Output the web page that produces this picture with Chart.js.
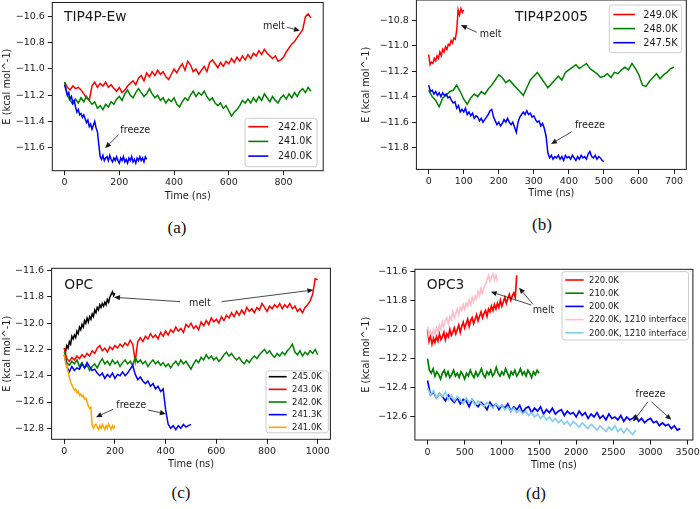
<!DOCTYPE html>
<html>
<head>
<meta charset="utf-8">
<script src="https://cdn.jsdelivr.net/npm/chart.js@4.4.1/dist/chart.umd.min.js"></script>
<style>
  html, body { margin: 0; padding: 0; background: #fff; }
  body { width: 700px; height: 509px; position: relative; overflow: hidden; }
  canvas { position: absolute; }
  .cap { position: absolute; font-family: "Liberation Serif", "DejaVu Serif", serif; font-size: 17px;
         color: #111; line-height: 1; transform: translate(-50%, -50%); }
</style>
</head>
<body>
<canvas id="pa"></canvas>
<canvas id="pb"></canvas>
<canvas id="pc"></canvas>
<canvas id="pd"></canvas>
<div class="cap" style="left:177px; top:227px">(a)</div>
<div class="cap" style="left:542px; top:224px">(b)</div>
<div class="cap" style="left:181px; top:492px">(c)</div>
<div class="cap" style="left:536px; top:493px">(d)</div>
<script>
// (a) TIP4P-Ew, energy (kcal/mol) sampled every step ns
const a242Step = 10;
const a242 = [-11.10,-11.14,-11.16,-11.13,-11.15,-11.14,-11.16,-11.19,-11.22,-11.24,
  -11.13,-11.10,-11.14,-11.11,-11.13,-11.10,-11.14,-11.12,-11.15,-11.17,
  -11.14,-11.18,-11.16,-11.13,-11.11,-11.09,-11.12,-11.07,-11.05,-11.09,
  -11.03,-11.06,-11.02,-11.05,-11.01,-11.04,-11.02,-11.06,-11.08,-11.04,
  -11.00,-11.03,-10.99,-10.96,-11.01,-10.94,-10.97,-11.02,-11.00,-11.04,
  -11.01,-10.98,-11.02,-10.95,-10.93,-10.96,-10.99,-10.95,-10.98,-10.94,
  -10.96,-10.92,-10.95,-10.91,-10.94,-10.90,-10.93,-10.89,-10.92,-10.88,
  -10.90,-10.86,-10.89,-10.85,-10.88,-10.90,-10.92,-10.90,-10.94,-10.93,
  -10.91,-10.87,-10.84,-10.81,-10.79,-10.76,-10.73,-10.70,-10.60,-10.58,
  -10.61];
const a241Step = 10;
const a241 = [-11.10,-11.20,-11.24,-11.27,-11.23,-11.26,-11.22,-11.25,-11.21,-11.24,
  -11.27,-11.25,-11.30,-11.28,-11.31,-11.27,-11.29,-11.25,-11.27,-11.23,
  -11.21,-11.24,-11.19,-11.16,-11.20,-11.22,-11.18,-11.15,-11.18,-11.21,
  -11.19,-11.15,-11.19,-11.22,-11.20,-11.24,-11.22,-11.26,-11.23,-11.25,
  -11.22,-11.27,-11.29,-11.25,-11.22,-11.24,-11.20,-11.17,-11.21,-11.18,
  -11.20,-11.17,-11.21,-11.24,-11.22,-11.26,-11.28,-11.26,-11.30,-11.28,
  -11.32,-11.36,-11.33,-11.31,-11.28,-11.24,-11.26,-11.23,-11.26,-11.22,
  -11.25,-11.21,-11.24,-11.19,-11.22,-11.25,-11.21,-11.24,-11.26,-11.22,
  -11.20,-11.23,-11.19,-11.22,-11.18,-11.21,-11.17,-11.15,-11.18,-11.14,
  -11.17];
const a240Step = 5;
const a240 = [-11.12,-11.16,-11.20,-11.18,-11.23,-11.21,-11.26,-11.24,-11.29,-11.33,
  -11.31,-11.35,-11.34,-11.37,-11.35,-11.38,-11.41,-11.39,-11.44,-11.42,
  -11.46,-11.43,-11.40,-11.45,-11.48,-11.58,-11.67,-11.69,-11.66,-11.70,
  -11.68,-11.67,-11.70,-11.66,-11.69,-11.71,-11.68,-11.70,-11.67,-11.70,
  -11.72,-11.68,-11.70,-11.67,-11.71,-11.69,-11.72,-11.68,-11.70,-11.67,
  -11.71,-11.69,-11.72,-11.68,-11.70,-11.67,-11.70,-11.68,-11.71,-11.67,
  -11.69];

// (b) TIP4P2005
const b249Step = 4;
const b249 = [-11.07,-11.15,-11.13,-11.14,-11.10,-11.12,-11.08,-11.10,-11.05,-11.08,
  -11.03,-11.05,-11.01,-11.03,-10.99,-11.00,-10.96,-10.98,-10.94,-10.95,
  -10.88,-10.72,-10.76,-10.71,-10.74,-10.72];
const b248Step = 10;
const b248 = [-11.35,-11.40,-11.43,-11.48,-11.41,-11.39,-11.36,-11.35,-11.31,-11.36,
  -11.42,-11.46,-11.41,-11.38,-11.40,-11.36,-11.38,-11.34,-11.31,-11.27,
  -11.23,-11.25,-11.29,-11.27,-11.30,-11.33,-11.36,-11.39,-11.33,-11.27,
  -11.24,-11.21,-11.25,-11.29,-11.33,-11.30,-11.27,-11.24,-11.27,-11.21,
  -11.19,-11.17,-11.15,-11.18,-11.16,-11.14,-11.18,-11.20,-11.22,-11.25,
  -11.24,-11.22,-11.25,-11.21,-11.22,-11.19,-11.17,-11.19,-11.14,-11.18,
  -11.23,-11.31,-11.32,-11.28,-11.25,-11.22,-11.26,-11.23,-11.21,-11.18,
  -11.17];
const b247Step = 5;
const b247 = [-11.31,-11.36,-11.35,-11.38,-11.36,-11.39,-11.37,-11.40,-11.37,-11.39,
  -11.38,-11.41,-11.40,-11.43,-11.45,-11.44,-11.49,-11.47,-11.52,-11.50,
  -11.52,-11.49,-11.54,-11.52,-11.55,-11.53,-11.57,-11.55,-11.56,-11.59,
  -11.57,-11.60,-11.58,-11.56,-11.54,-11.51,-11.50,-11.56,-11.59,-11.62,
  -11.60,-11.63,-11.61,-11.58,-11.60,-11.57,-11.60,-11.62,-11.60,-11.64,
  -11.68,-11.60,-11.56,-11.54,-11.52,-11.54,-11.51,-11.54,-11.53,-11.56,
  -11.55,-11.58,-11.60,-11.59,-11.63,-11.61,-11.65,-11.71,-11.84,-11.88,
  -11.86,-11.89,-11.87,-11.88,-11.86,-11.89,-11.87,-11.90,-11.86,-11.88,
  -11.87,-11.89,-11.86,-11.88,-11.90,-11.87,-11.89,-11.86,-11.88,-11.87,
  -11.89,-11.85,-11.83,-11.87,-11.88,-11.86,-11.89,-11.87,-11.88,-11.90,
  -11.91];

// (c) OPC
const c245Step = 5;
const c245 = [-12.19,-12.22,-12.17,-12.19,-12.14,-12.16,-12.10,-12.12,-12.09,-12.11,
  -12.06,-12.08,-12.03,-12.05,-12.01,-12.03,-11.98,-12.00,-11.96,-11.99,
  -11.95,-11.97,-11.93,-11.95,-11.90,-11.92,-11.88,-11.90,-11.86,-11.88,
  -11.85,-11.87,-11.84,-11.86,-11.82,-11.84,-11.80,-11.78,-11.76,-11.79,
  -11.77];
const c243Step = 10;
const c243 = [-12.19,-12.27,-12.29,-12.26,-12.28,-12.25,-12.27,-12.24,-12.26,-12.23,
  -12.25,-12.21,-12.23,-12.19,-12.17,-12.21,-12.19,-12.22,-12.18,-12.20,
  -12.17,-12.19,-12.16,-12.18,-12.15,-12.17,-12.13,-12.16,-12.29,-12.14,
  -12.11,-12.14,-12.10,-12.12,-12.08,-12.11,-12.09,-12.12,-12.07,-12.10,
  -12.06,-12.09,-12.05,-12.07,-12.03,-12.06,-12.04,-12.07,-12.01,-12.03,
  -12.00,-12.04,-12.02,-12.05,-11.99,-12.02,-11.98,-12.01,-11.96,-11.99,
  -11.97,-12.00,-11.95,-11.98,-11.94,-11.96,-11.92,-11.95,-11.91,-11.94,
  -11.90,-11.93,-11.88,-11.91,-11.89,-11.92,-11.88,-11.90,-11.85,-11.88,
  -11.91,-11.87,-11.89,-11.86,-11.88,-11.85,-11.89,-11.86,-11.88,-11.85,
  -11.89,-11.87,-11.91,-11.89,-11.92,-11.88,-11.86,-11.83,-11.78,-11.66,
  -11.67];
const c242Step = 10;
const c242 = [-12.22,-12.30,-12.32,-12.29,-12.31,-12.28,-12.33,-12.30,-12.34,-12.32,
  -12.36,-12.33,-12.31,-12.34,-12.30,-12.27,-12.31,-12.29,-12.32,-12.28,
  -12.31,-12.29,-12.33,-12.30,-12.28,-12.31,-12.29,-12.32,-12.26,-12.30,
  -12.28,-12.31,-12.29,-12.33,-12.30,-12.28,-12.31,-12.29,-12.32,-12.30,
  -12.33,-12.31,-12.34,-12.31,-12.29,-12.32,-12.28,-12.31,-12.29,-12.32,
  -12.35,-12.31,-12.28,-12.30,-12.26,-12.28,-12.24,-12.27,-12.25,-12.28,
  -12.26,-12.29,-12.27,-12.24,-12.22,-12.25,-12.23,-12.26,-12.28,-12.26,
  -12.29,-12.31,-12.28,-12.30,-12.27,-12.25,-12.27,-12.24,-12.22,-12.20,
  -12.23,-12.21,-12.24,-12.26,-12.23,-12.25,-12.22,-12.24,-12.21,-12.19,
  -12.16,-12.22,-12.24,-12.21,-12.25,-12.22,-12.24,-12.21,-12.23,-12.20,
  -12.24];
const c2413Step = 10;
const c2413 = [-12.24,-12.33,-12.37,-12.33,-12.36,-12.34,-12.35,-12.31,-12.34,-12.30,
  -12.33,-12.36,-12.35,-12.38,-12.40,-12.38,-12.42,-12.39,-12.41,-12.38,
  -12.42,-12.39,-12.40,-12.37,-12.40,-12.38,-12.35,-12.32,-12.39,-12.43,
  -12.41,-12.44,-12.46,-12.44,-12.48,-12.46,-12.50,-12.48,-12.52,-12.50,
  -12.66,-12.77,-12.80,-12.78,-12.81,-12.78,-12.80,-12.77,-12.79,-12.78,
  -12.77];
const c241Step = 5;
const c241 = [-12.24,-12.30,-12.33,-12.37,-12.41,-12.45,-12.47,-12.49,-12.51,-12.50,
  -12.53,-12.52,-12.55,-12.54,-12.56,-12.55,-12.58,-12.57,-12.60,-12.63,
  -12.65,-12.64,-12.78,-12.80,-12.78,-12.77,-12.79,-12.81,-12.78,-12.80,
  -12.77,-12.79,-12.81,-12.78,-12.80,-12.77,-12.79,-12.81,-12.78,-12.80,
  -12.78];

// (d) OPC3
const d220Step = 20;
const d220 = [-12.00,-12.08,-12.04,-12.10,-12.06,-12.09,-12.05,-12.08,-12.03,-12.07,
  -12.05,-12.02,-12.07,-12.03,-12.05,-12.00,-12.04,-12.02,-11.99,-12.03,
  -12.00,-11.97,-12.02,-11.98,-11.95,-11.99,-11.96,-11.93,-11.98,-11.94,
  -11.92,-11.96,-11.93,-11.90,-11.94,-11.91,-11.88,-11.92,-11.89,-11.87,
  -11.91,-11.86,-11.88,-11.84,-11.87,-11.83,-11.86,-11.82,-11.85,-11.80,
  -11.84,-11.81,-11.78,-11.82,-11.79,-11.76,-11.80,-11.77,-11.75,-11.78,
  -11.63];
const d210Step = 25;
const d210 = [-12.20,-12.28,-12.30,-12.27,-12.32,-12.29,-12.31,-12.34,-12.30,-12.28,
  -12.32,-12.29,-12.33,-12.31,-12.28,-12.32,-12.30,-12.33,-12.29,-12.31,
  -12.34,-12.30,-12.32,-12.28,-12.31,-12.33,-12.29,-12.32,-12.30,-12.27,
  -12.31,-12.33,-12.29,-12.31,-12.28,-12.32,-12.30,-12.26,-12.30,-12.32,
  -12.29,-12.31,-12.27,-12.30,-12.33,-12.29,-12.31,-12.28,-12.32,-12.30,
  -12.27,-12.31,-12.29,-12.32,-12.28,-12.30,-12.33,-12.29,-12.31,-12.28,
  -12.30];
const d200Step = 40;
const d200 = [-12.35,-12.45,-12.43,-12.47,-12.44,-12.46,-12.49,-12.45,-12.48,-12.50,
  -12.47,-12.51,-12.48,-12.49,-12.53,-12.48,-12.51,-12.53,-12.50,-12.52,
  -12.55,-12.50,-12.53,-12.51,-12.55,-12.52,-12.54,-12.51,-12.56,-12.53,
  -12.55,-12.52,-12.57,-12.54,-12.53,-12.57,-12.54,-12.56,-12.53,-12.58,
  -12.55,-12.57,-12.54,-12.58,-12.56,-12.55,-12.59,-12.56,-12.58,-12.57,
  -12.60,-12.56,-12.59,-12.57,-12.61,-12.58,-12.60,-12.57,-12.61,-12.59,
  -12.62,-12.58,-12.61,-12.60,-12.62,-12.59,-12.63,-12.60,-12.62,-12.61,
  -12.59,-12.63,-12.61,-12.64,-12.62,-12.61,-12.64,-12.63,-12.66,-12.64,
  -12.66,-12.65,-12.68,-12.66,-12.69,-12.68];
const d220iStep = 20;
const d220i = [-11.98,-12.04,-12.01,-12.05,-12.00,-12.03,-11.99,-12.02,-11.97,-12.00,
  -11.95,-11.98,-11.94,-11.92,-11.96,-11.91,-11.93,-11.88,-11.92,-11.89,
  -11.86,-11.90,-11.85,-11.87,-11.83,-11.86,-11.82,-11.84,-11.80,-11.83,
  -11.78,-11.81,-11.77,-11.79,-11.74,-11.77,-11.72,-11.75,-11.71,-11.69,
  -11.66,-11.63,-11.67,-11.64,-11.62,-11.66,-11.63,-11.67];
const d200iStep = 40;
const d200i = [-12.40,-12.45,-12.42,-12.47,-12.44,-12.46,-12.43,-12.48,-12.45,-12.49,
  -12.46,-12.48,-12.51,-12.47,-12.50,-12.48,-12.52,-12.49,-12.51,-12.53,
  -12.50,-12.52,-12.54,-12.51,-12.53,-12.52,-12.55,-12.53,-12.56,-12.54,
  -12.57,-12.55,-12.58,-12.56,-12.59,-12.57,-12.60,-12.58,-12.61,-12.59,
  -12.62,-12.60,-12.63,-12.61,-12.64,-12.62,-12.65,-12.63,-12.66,-12.63,
  -12.65,-12.67,-12.64,-12.66,-12.68,-12.65,-12.67,-12.69,-12.66,-12.68,
  -12.70,-12.67,-12.69,-12.66,-12.70,-12.68,-12.71,-12.68,-12.70,-12.72,
  -12.69];

// tick labels
const xTicksA = [0, 200, 400, 600, 800];
const yTicksA = [-11.6, -11.4, -11.2, -11.0, -10.8, -10.6];
const xTicksB = [0, 100, 200, 300, 400, 500, 600, 700];
const yTicksB = [-11.8, -11.6, -11.4, -11.2, -11.0, -10.8];
const xTicksC = [0, 200, 400, 600, 800, 1000];
const yTicksC = [-12.8, -12.6, -12.4, -12.2, -12.0, -11.8, -11.6];
const xTicksD = [0, 500, 1000, 1500, 2000, 2500, 3000, 3500];
const yTicksD = [-12.6, -12.4, -12.2, -12.0, -11.8, -11.6];

const FONT = '"DejaVu Sans", Verdana, sans-serif';
const INK = '#1a1a1a';

function pts(step, vals) {
  return vals.map((v, i) => ({ x: i * step, y: v }));
}

function arrow(ctx, x1, y1, x2, y2) {
  const ang = Math.atan2(y2 - y1, x2 - x1), L = 6, W = 2.6;
  const bx = x2 - L * Math.cos(ang), by = y2 - L * Math.sin(ang);
  ctx.beginPath(); ctx.moveTo(x1, y1); ctx.lineTo(bx, by); ctx.stroke();
  ctx.beginPath();
  ctx.moveTo(x2, y2);
  ctx.lineTo(bx + W * Math.sin(ang), by - W * Math.cos(ang));
  ctx.lineTo(bx - W * Math.sin(ang), by + W * Math.cos(ang));
  ctx.closePath(); ctx.fill();
}

function panel(id, p) {
  const cv = document.getElementById(id);
  cv.width = p.cw; cv.height = p.ch;
  cv.style.left = p.cx + 'px'; cv.style.top = p.cy + 'px';
  const a = p.area;
  const yW = a.l - p.cx;
  const xH = p.cy + p.ch - a.b;
  const n = p.series.length;

  // frame, panel title, notes and legend
  const deco = {
    id: 'deco_' + id,
    afterDatasetsDraw(chart) {
      const ctx = chart.ctx, ca = chart.chartArea;
      const X = chart.scales.x, Y = chart.scales.y;
      ctx.save();
      ctx.strokeStyle = INK; ctx.lineWidth = 1;
      ctx.strokeRect(ca.left, ca.top, ca.right - ca.left, ca.bottom - ca.top);

      ctx.fillStyle = INK;
      ctx.font = '13.8px ' + FONT;
      ctx.textBaseline = 'middle'; ctx.textAlign = 'left';
      ctx.fillText(p.title.text, p.title.x - p.cx, p.title.y - p.cy);

      ctx.font = '9.6px ' + FONT; ctx.textAlign = 'center';
      ctx.lineWidth = 0.8; ctx.strokeStyle = INK;
      p.notes.forEach(nt => {
        ctx.fillText(nt.text, X.getPixelForValue(nt.x), Y.getPixelForValue(nt.y));
        nt.arrows.forEach(ar => arrow(ctx,
          X.getPixelForValue(ar[0]), Y.getPixelForValue(ar[1]),
          X.getPixelForValue(ar[2]), Y.getPixelForValue(ar[3])));
      });

      const L = p.legend;
      ctx.beginPath();
      ctx.roundRect(L.x - p.cx, L.y - p.cy, L.w, L.h, 2.5);
      ctx.fillStyle = 'rgba(255,255,255,0.85)'; ctx.fill();
      ctx.strokeStyle = '#cccccc'; ctx.lineWidth = 1; ctx.stroke();
      ctx.font = L.size + 'px ' + FONT; ctx.textAlign = 'left';
      p.series.forEach((s, i) => {
        const yy = L.row0 + i * L.gap - p.cy;
        ctx.strokeStyle = s.color; ctx.lineWidth = 1.6;
        ctx.beginPath(); ctx.moveTo(L.l0 - p.cx, yy); ctx.lineTo(L.l1 - p.cx, yy); ctx.stroke();
        ctx.fillStyle = INK;
        ctx.fillText(s.label, L.tx - p.cx, yy + 0.5);
      });
      ctx.restore();
    }
  };

  return new Chart(cv, {
    type: 'line',
    data: {
      datasets: p.series.map((s, i) => ({
        label: s.label, data: s.data, borderColor: s.color, borderWidth: p.lw,
        pointRadius: 0, fill: false, tension: 0, order: n - i
      }))
    },
    options: {
      responsive: false, animation: false, devicePixelRatio: 1,
      layout: { autoPadding: false, padding: { left: 0, top: a.t - p.cy, right: p.cx + p.cw - a.r, bottom: 0 } },
      plugins: { legend: { display: false }, tooltip: { enabled: false } },
      scales: {
        x: {
          type: 'linear', min: p.xr[0], max: p.xr[1],
          afterBuildTicks: s => { s.ticks = p.xt.map(v => ({ value: v })); },
          afterFit: s => { s.height = xH; s.paddingLeft = 0; s.paddingRight = 0; },
          ticks: { autoSkip: false, maxRotation: 0, padding: 2, color: INK,
                   font: { family: FONT, size: 9.5 }, callback: v => String(v) },
          grid: { drawOnChartArea: false, tickLength: 4.5, color: INK },
          border: { display: false },
          title: { display: true, text: 'Time (ns)', color: INK,
                   font: { family: FONT, size: 9.8 },
                   padding: { top: 0, bottom: p.cy + p.ch - p.xTitleY - 5.88 } }
        },
        y: {
          type: 'linear', min: p.yr[0], max: p.yr[1],
          afterBuildTicks: s => { s.ticks = p.yt.map(v => ({ value: v })); },
          afterFit: s => { s.width = yW; s.paddingTop = 0; s.paddingBottom = 0; },
          ticks: { autoSkip: false, padding: 3, color: INK,
                   font: { family: FONT, size: 9.5 },
                   callback: v => v.toFixed(1).replace('-', '\u2212') },
          grid: { drawOnChartArea: false, tickLength: 4.5, color: INK },
          border: { display: false },
          title: { display: true, text: 'E (kcal mol^-1)', color: INK,
                   font: { family: FONT, size: 9.8 },
                   padding: { top: p.yTitleX - p.cx - 5.88, bottom: 0 } }
        }
      }
    },
    plugins: [deco]
  });
}

panel('pa', {
  cx: 0, cy: 0, cw: 350, ch: 205, lw: 1.5,
  area: { l: 52.3, t: 2.5, r: 323.2, b: 170.7 },
  xr: [-45, 945], yr: [-11.777, -10.492], xt: xTicksA, yt: yTicksA,
  xTitleY: 196, yTitleX: 7,
  title: { text: 'TIP4P-Ew', x: 64, y: 17 },
  series: [
    { label: '242.0K', color: '#ff0000', data: pts(a242Step, a242) },
    { label: '241.0K', color: '#008000', data: pts(a241Step, a241) },
    { label: '240.0K', color: '#0000ff', data: pts(a240Step, a240) }
  ],
  notes: [
    { text: 'melt', x: 765, y: -10.676, arrows: [[812, -10.681, 860, -10.707]] },
    { text: 'freeze', x: 258, y: -11.472, arrows: [[197, -11.503, 148, -11.605]] }
  ],
  legend: { x: 245, y: 118.3, w: 72, h: 48.4, row0: 126.7, gap: 14.7, l0: 248.3, l1: 268.3, tx: 278, size: 9.6 }
});

panel('pb', {
  cx: 350, cy: 0, cw: 350, ch: 205, lw: 1.5,
  area: { l: 416.4, t: 0, r: 686.3, b: 169.4 },
  xr: [-35, 735], yr: [-11.97, -10.643], xt: xTicksB, yt: yTicksB,
  xTitleY: 193, yTitleX: 366,
  title: { text: 'TIP4P2005', x: 515, y: 17 },
  series: [
    { label: '249.0K', color: '#ff0000', data: pts(b249Step, b249) },
    { label: '248.0K', color: '#008000', data: pts(b248Step, b248) },
    { label: '247.5K', color: '#0000ff', data: pts(b247Step, b247) }
  ],
  notes: [
    { text: 'melt', x: 177, y: -10.912, arrows: [[137, -10.896, 92, -10.839]] },
    { text: 'freeze', x: 460, y: -11.630, arrows: [[408, -11.675, 349, -11.771]] }
  ],
  legend: { x: 609.3, y: 5, w: 72.4, h: 47.7, row0: 14.5, gap: 14.1, l0: 613.3, l1: 635, tx: 643.3, size: 9.8 }
});

panel('pc', {
  cx: 0, cy: 255, cw: 350, ch: 220, lw: 1.5,
  area: { l: 51.6, t: 268.3, r: 330.4, b: 439.3 },
  xr: [-50, 1050], yr: [-12.884, -11.582], xt: xTicksC, yt: yTicksC,
  xTitleY: 464, yTitleX: 7,
  title: { text: 'OPC', x: 64.3, y: 285.5 },
  series: [
    { label: '245.0K', color: '#000000', data: pts(c245Step, c245) },
    { label: '243.0K', color: '#ff0000', data: pts(c243Step, c243) },
    { label: '242.0K', color: '#008000', data: pts(c242Step, c242) },
    { label: '241.3K', color: '#0000ff', data: pts(c2413Step, c2413) },
    { label: '241.0K', color: '#ffa500', data: pts(c241Step, c241) }
  ],
  notes: [
    { text: 'melt', x: 535, y: -11.848,
      arrows: [[457, -11.836, 196, -11.803], [621, -11.836, 983, -11.747]] },
    { text: 'freeze', x: 264, y: -12.623,
      arrows: [[193, -12.655, 125, -12.716], [331, -12.661, 401, -12.691]] }
  ],
  legend: { x: 266, y: 370.8, w: 62.3, h: 62, row0: 376.7, gap: 12.65, l0: 268.7, l1: 286.7, tx: 292, size: 8.5 }
});

panel('pd', {
  cx: 350, cy: 255, cw: 350, ch: 220, lw: 1.7,
  area: { l: 414.9, t: 269.3, r: 692.9, b: 440 },
  xr: [-170, 3570], yr: [-12.758, -11.588], xt: xTicksD, yt: yTicksD,
  xTitleY: 465.7, yTitleX: 366.7,
  title: { text: 'OPC3', x: 426.7, y: 285.7 },
  series: [
    { label: '220.0K', color: '#ff0000', data: pts(d220Step, d220) },
    { label: '210.0K', color: '#008000', data: pts(d210Step, d210) },
    { label: '200.0K', color: '#0000ff', data: pts(d200Step, d200) },
    { label: '220.0K, 12\u030410 interface', color: '#ffc0cb', data: pts(d220iStep, d220i) },
    { label: '200.0K, 12\u030410 interface', color: '#87ceeb', data: pts(d200iStep, d200i) }
  ],
  notes: [
    { text: 'melt', x: 1560, y: -11.867,
      arrows: [[1396, -11.833, 850, -11.742], [1419, -11.828, 1231, -11.714]] },
    { text: 'freeze', x: 3000, y: -12.445,
      arrows: [[2966, -12.495, 2764, -12.632], [3011, -12.495, 3280, -12.620]] }
  ],
  legend: { x: 562, y: 271.7, w: 126.5, h: 68.3, row0: 280, gap: 13.2, l0: 565.3, l1: 583.7, tx: 589, size: 8.5 }
});
</script>
</body>
</html>
